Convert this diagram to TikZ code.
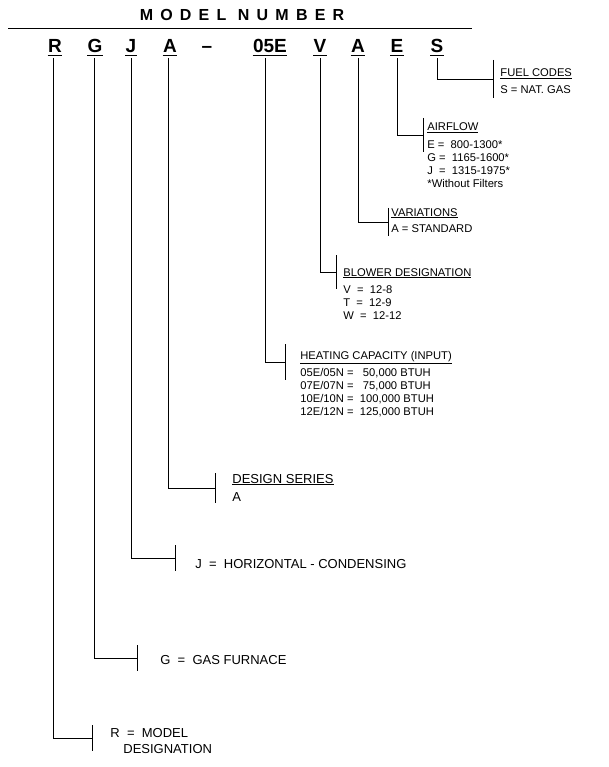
\documentclass[tikz,border=0pt]{standalone}
\usepackage{fontspec}
\setmainfont{Liberation Sans}
\begin{document}
\begin{tikzpicture}[x=1pt,y=-1pt,line width=0.8pt,
  big/.style={font=\bfseries\fontsize{19}{19}\selectfont,inner sep=0pt,anchor=base},
  lab/.style={font=\fontsize{11.2}{13}\selectfont,inner sep=0pt,anchor=base west},
  lab2/.style={font=\fontsize{13}{15}\selectfont,inner sep=0pt,anchor=base west},
  hd/.style={lab}]
\useasboundingbox (0,0) rectangle (608,767);
\node[inner sep=0pt,anchor=base,font=\bfseries\fontsize{16}{16}\selectfont\addfontfeature{LetterSpace=45}] (title) at (242,21) {MODEL NUMBER};
\draw (8,28) -- (472,28);
% code letters
\foreach \n/\t/\x in {r/R/55,g/G/95,j/J/131,a/A/170,e5/05E/270,v/V/320,a2/A/358,e/E/397,s/S/437}{
  \node[big] (\n) at (\x,53) {\t};
}
\node[big] (dash) at (207,53) {--};
\foreach \n in {r,g,j,a,e5,v,a2,e,s}{\draw ([yshift=-2pt]\n.south west) -- ([yshift=-2pt]\n.south east);}
% branches
\newcommand\branch[5]{% node, x, y, bracket x, bracket half
  \coordinate (#1c) at (#4,#3);
  \draw (#2,58) -- (#2,#3) -- (#1c);
  \draw (#4,#3-#5) -- (#4,#3+#5);}
\branch{s}{437}{79}{493}{19}
\branch{e}{397}{135}{423}{17}
\branch{a2}{358}{222}{388}{14}
\branch{v}{320}{272}{336}{17}
\branch{e5}{265}{362}{285}{18}
\branch{a}{168}{488}{215}{15}
\branch{j}{131}{558}{175}{13}
\branch{g}{94}{658}{137}{13}
\branch{r}{53}{738}{92}{13}
% texts
\node[hd] (t1) at (500,77) {\underline{FUEL CODES}};
\node[lab] at (500,94) {S = NAT. GAS};
\node[hd] (t2) at (427,131) {\underline{AIRFLOW}};
\node[lab,align=left,anchor=north west] at (427,140) {E = \ 800-1300*\\G = \ 1165-1600*\\J \ = \ 1315-1975*\\*Without Filters};
\node[hd] at (391,216) {\underline{VARIATIONS}};
\node[lab] at (391,233) {A = STANDARD};
\node[hd] at (343,276) {\underline{BLOWER DESIGNATION}};
\node[lab,align=left,anchor=north west] at (343,285) {V \ = \ 12-8\\T \ = \ 12-9\\W \ = \ 12-12};
\node[hd] at (300,359) {\underline{HEATING CAPACITY (INPUT)}};
\node[lab,align=left,anchor=north west] at (300,368) {05E/05N = \ \ 50,000 BTUH\\07E/07N = \ \ 75,000 BTUH\\10E/10N = \ 100,000 BTUH\\12E/12N = \ 125,000 BTUH};
\node[lab2] at (232,483) {\underline{DESIGN SERIES}};
\node[lab2] at (232,501) {A};
\node[lab2] at (195,568) {J \ = \ HORIZONTAL - CONDENSING};
\node[lab2] at (160,664) {G \ = \ GAS FURNACE};
\node[lab2] (rm) at (110,737) {R \ = \ MODEL};
\node[lab2] at (123,753) {DESIGNATION};
\end{tikzpicture}
\end{document}
